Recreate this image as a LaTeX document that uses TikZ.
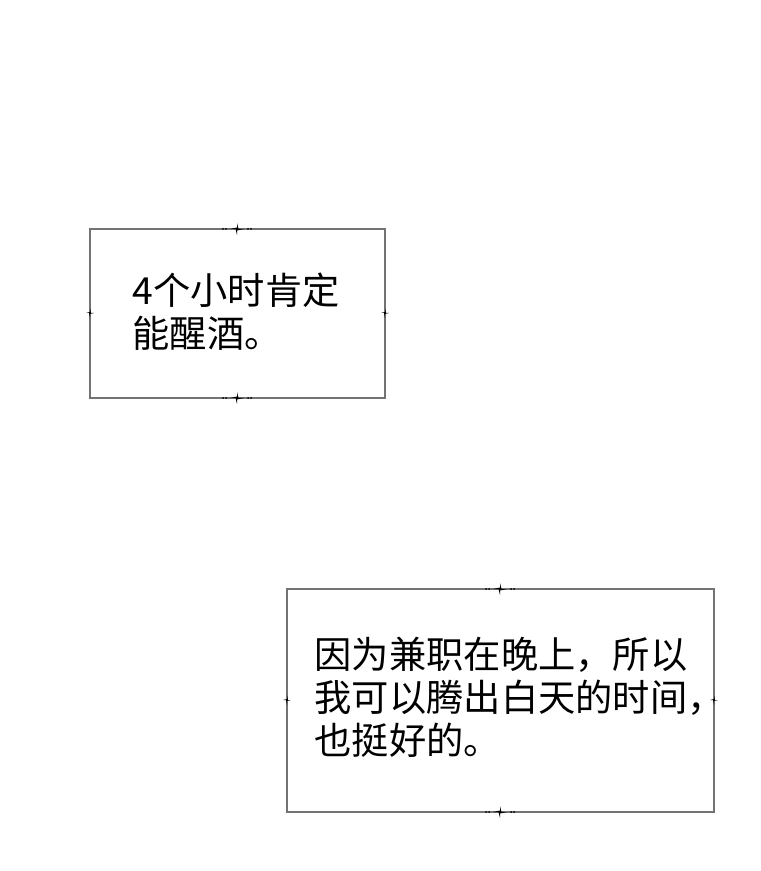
\documentclass[tikz,border=0pt]{standalone}
\usepackage{fontspec}
\newfontfamily\cjk{Noto Sans CJK SC}
\begin{document}
\begin{tikzpicture}[x=0.01cm, y=-0.01cm, box/.style={draw=black!55, line width=0.4pt},
  txt/.style={anchor=north west, align=left, inner sep=0pt, font=\cjk\fontsize{10.6pt}{12.3pt}\selectfont},
  star/.pic={\fill (-7,0) -- (0,-1.5) -- (0,-6) -- (1.5,0) -- (7,0) -- (0,1.5) -- (0,6) -- (-1.5,0) -- cycle;
    \foreach \d in {-14,-11,11,14} {\fill (\d,0) circle (1);}},
  tick/.pic={\fill (-4,0) -- (0,-1) -- (0,-5) -- (1,0) -- (4,0) -- (0,1) -- (0,5) -- (-1,0) -- cycle;}]
\useasboundingbox (0,0) rectangle (760,871);
% first box
\draw[box] (90,229) rectangle (385,398);
\foreach \p in {(237,229),(237,398)} {\pic at \p {star};}
\foreach \p in {(90,313),(385,313)} {\pic at \p {tick};}
\node[txt] (t1) at (132,272) {4个小时肯定\\能醒酒。};
% second box
\draw[box] (287,589) rectangle (714,812);
\foreach \p in {(500,589),(500,812)} {\pic at \p {star};}
\foreach \p in {(287,700),(714,700)} {\pic at \p {tick};}
\node[txt] (t2) at (314,636) {因为兼职在晚上，所以\\我可以腾出白天的时间，\\也挺好的。};
\end{tikzpicture}
\end{document}
